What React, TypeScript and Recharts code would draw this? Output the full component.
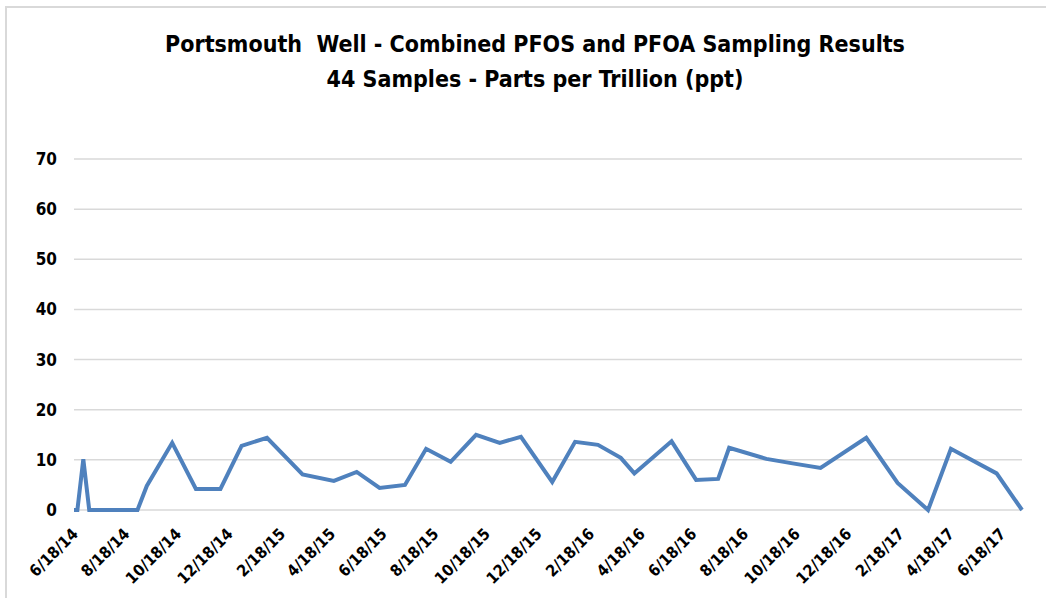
import React from "react";
import { LineChart, Line, XAxis, YAxis, CartesianGrid } from "recharts";

const sampleDates = [
  "2014-06-18", "2014-06-22", "2014-06-29", "2014-07-06", "2014-07-15", "2014-07-27",
  "2014-08-08", "2014-08-20", "2014-09-01", "2014-09-12", "2014-10-12", "2014-11-09",
  "2014-12-08", "2015-01-02", "2015-02-01", "2015-03-15", "2015-04-21", "2015-05-18",
  "2015-06-14", "2015-07-14", "2015-08-08", "2015-09-06", "2015-10-06", "2015-11-03",
  "2015-11-28", "2016-01-04", "2016-01-31", "2016-02-27", "2016-03-25", "2016-04-10",
  "2016-05-24", "2016-06-22", "2016-07-18", "2016-07-31", "2016-09-13", "2016-10-14",
  "2016-11-16", "2017-01-09", "2017-02-15", "2017-03-23", "2017-04-19", "2017-06-12",
  "2017-07-12",
];

const pfasValues = [
  0, 0, 10.1, 0, 0, 0,
  0, 0, 0, 4.8, 13.4, 4.2,
  4.2, 12.8, 14.4, 7.1, 5.8, 7.6,
  4.4, 5.0, 12.2, 9.6, 15.0, 13.4,
  14.6, 5.6, 13.6, 13.0, 10.4, 7.3,
  13.7, 6.0, 6.2, 12.4, 10.2, 9.3,
  8.4, 14.4, 5.4, 0, 12.2, 7.3,
  0,
];

const tickDates = [
  "2014-06-18", "2014-08-18", "2014-10-18", "2014-12-18", "2015-02-18", "2015-04-18",
  "2015-06-18", "2015-08-18", "2015-10-18", "2015-12-18", "2016-02-18", "2016-04-18",
  "2016-06-18", "2016-08-18", "2016-10-18", "2016-12-18", "2017-02-18", "2017-04-18",
  "2017-06-18",
];

const yTicks = [0, 10, 20, 30, 40, 50, 60, 70];

const titleLine1 = "Portsmouth  Well - Combined PFOS and PFOA Sampling Results";
const titleLine2 = "44 Samples - Parts per Trillion (ppt)";

const toTs = (s: string) => {
  const [y, m, d] = s.split("-").map(Number);
  return Date.UTC(y, m - 1, d);
};

const fmt = (ts: number) => {
  const dt = new Date(ts);
  const yy = String(dt.getUTCFullYear()).slice(2);
  return `${dt.getUTCMonth() + 1}/${dt.getUTCDate()}/${yy}`;
};

const data = sampleDates.map((d, i) => ({ t: toTs(d), v: pfasValues[i] }));
const xTicks = tickDates.map(toTs);

const FONT = "'Liberation Sans Narrow', 'DejaVu Sans Condensed', 'Open Sans', sans-serif";

const XTick = (props: any) => {
  const { x, y, payload } = props;
  return (
    <g transform={`translate(${x + 1},${y + 13})`}>
      <text
        textAnchor="end"
        transform="rotate(-45)"
        dy="0.35em"
        fontFamily={FONT}
        fontWeight="bold"
        fontSize={16}
        fill="#000"
      >
        {fmt(payload.value)}
      </text>
    </g>
  );
};

const YTick = (props: any) => {
  const { y, payload } = props;
  return (
    <text
      x={57}
      y={y}
      dy="0.35em"
      textAnchor="end"
      fontFamily={FONT}
      fontWeight="bold"
      fontSize={17}
      fill="#000"
    >
      {payload.value}
    </text>
  );
};

export default function App() {
  return (
    <div
      style={{
        position: "absolute",
        left: 0,
        top: 0,
        width: 1046,
        height: 598,
        background: "#fff",
        overflow: "hidden",
      }}
    >
      <div
        style={{
          position: "absolute",
          left: 5,
          top: 6,
          right: 0,
          bottom: 0,
          borderTop: "2px solid #d9d9d9",
          borderLeft: "2px solid #d9d9d9",
        }}
      />
      <div
        style={{
          position: "absolute",
          left: 0,
          top: 27,
          width: 1070,
          textAlign: "center",
          fontFamily: FONT,
          fontWeight: "bold",
          fontSize: 23,
          lineHeight: "35px",
          color: "#000",
          whiteSpace: "pre",
        }}
      >
        <div>{titleLine1}</div>
        <div>{titleLine2}</div>
      </div>
      <div style={{ position: "absolute", left: 0, top: 0 }}>
        <LineChart
          width={1046}
          height={598}
          data={data}
          margin={{ top: 159, right: 24, left: 0, bottom: 0 }}
        >
          <CartesianGrid horizontal vertical={false} stroke="#d9d9d9" strokeWidth={1.5} />
          <XAxis
            dataKey="t"
            type="number"
            scale="time"
            domain={["dataMin", "dataMax"]}
            ticks={xTicks}
            tick={<XTick />}
            tickLine={false}
            axisLine={false}
            height={88}
            interval={0}
          />
          <YAxis
            domain={[0, 70]}
            ticks={yTicks}
            tick={<YTick />}
            tickLine={false}
            axisLine={false}
            width={74}
            interval={0}
          />
          <Line
            type="linear"
            dataKey="v"
            stroke="#4f81bd"
            strokeWidth={4}
            dot={false}
            isAnimationActive={false}
          />
        </LineChart>
      </div>
    </div>
  );
}
